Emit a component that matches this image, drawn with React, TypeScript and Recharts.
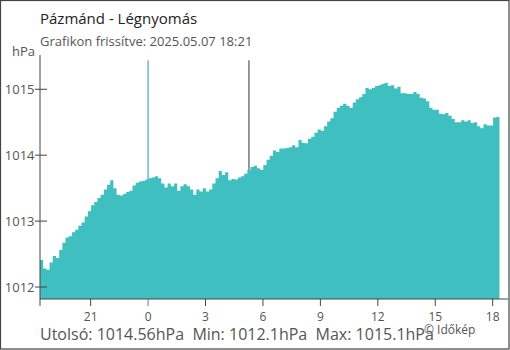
import { AreaChart, Area, XAxis, YAxis, ReferenceLine } from "recharts";

// 10 minute readings, first one at 18:21 the previous day
const START_HOUR = -5.645;
const STEP_HOUR = 1 / 6;

const pressure = [
  1012.41, 1012.28, 1012.26, 1012.37, 1012.47, 1012.44, 1012.56, 1012.67, 1012.75, 1012.77,
  1012.83, 1012.87, 1012.93, 1012.98, 1013.07, 1013.15, 1013.24, 1013.29, 1013.35, 1013.4,
  1013.48, 1013.55, 1013.62, 1013.5, 1013.4, 1013.39, 1013.41, 1013.44, 1013.46, 1013.54,
  1013.58, 1013.6, 1013.61, 1013.63, 1013.65, 1013.66, 1013.68, 1013.65, 1013.57, 1013.51,
  1013.57, 1013.53, 1013.57, 1013.46, 1013.53, 1013.56, 1013.53, 1013.48, 1013.4, 1013.48,
  1013.45, 1013.5, 1013.45, 1013.48, 1013.57, 1013.65, 1013.76, 1013.7, 1013.74, 1013.62,
  1013.64, 1013.63, 1013.66, 1013.68, 1013.72, 1013.78, 1013.82, 1013.84, 1013.8, 1013.78,
  1013.85, 1013.93, 1013.99, 1014.07, 1014.05, 1014.1, 1014.1, 1014.11, 1014.12, 1014.15,
  1014.12, 1014.23, 1014.19, 1014.18, 1014.25, 1014.28, 1014.34, 1014.39, 1014.37, 1014.44,
  1014.51, 1014.56, 1014.66, 1014.72, 1014.75, 1014.78, 1014.75, 1014.72, 1014.8, 1014.85,
  1014.88, 1014.93, 1015.02, 1015.0, 1015.02, 1015.05, 1015.06, 1015.08, 1015.1, 1015.05,
  1015.06, 1015.01, 1015.04, 1014.94, 1014.94, 1014.93, 1014.93, 1014.96, 1014.93, 1014.87,
  1014.86, 1014.82, 1014.72, 1014.69, 1014.69, 1014.63, 1014.62, 1014.64, 1014.6, 1014.55,
  1014.5, 1014.5, 1014.53, 1014.51, 1014.53, 1014.49, 1014.5, 1014.44, 1014.41, 1014.47,
  1014.45, 1014.45, 1014.57, 1014.58, 1014.56,
];

const xTicks = [START_HOUR, -3, 0, 3, 6, 9, 12, 15, 18];
const yTicks = [1012, 1013, 1014, 1015];

const MIDNIGHT = 0;
const SUNRISE = 5.27;

const TITLE = "Pázmánd - Légnyomás";
const SUBTITLE = "Grafikon frissítve: 2025.05.07 18:21";
const SUMMARY = "Utolsó: 1014.56hPa  Min: 1012.1hPa  Max: 1015.1hPa";

const data = pressure.map((p, i) => ({ t: START_HOUR + i * STEP_HOUR, p }));

const valueAt = (h: number) => pressure[Math.floor((h - START_HOUR) / STEP_HOUR)];

const FONT = "'Open Sans', sans-serif";
const AXIS = "#444";
const GREY = "#555";

const YTick = ({ x, y, payload }: any) => (
  <g>
    <line x1={x - 5} x2={x + 7} y1={y} y2={y} stroke={AXIS} />
    <text x={x - 5.5} y={y} dy={4.5} textAnchor="end" fill={GREY} fontSize={13} fontFamily={FONT}>
      {payload.value}
    </text>
  </g>
);

const XTick = ({ x, y, payload }: any) => {
  const v = payload.value;
  const label = v === START_HOUR ? "" : String(v < 0 ? v + 24 : v);
  return (
    <g>
      <line x1={x} x2={x} y1={y} y2={y + 7} stroke={v === 0 ? "#2b8fd8" : AXIS} />
      <text x={x} y={y + 21.5} textAnchor="middle" fill={GREY} fontSize={12} fontFamily={FONT}>
        {label}
      </text>
    </g>
  );
};

export default function App() {
  return (
    <div style={{ position: "absolute", left: 0, top: 0, width: 510, height: 350, background: "#fff" }}>
      <AreaChart width={510} height={350} data={data} margin={{ top: 55, right: 2, left: 0, bottom: 0 }}>
        <XAxis
          dataKey="t"
          type="number"
          domain={[START_HOUR, 18.8]}
          ticks={xTicks}
          allowDataOverflow
          height={51}
          tickSize={0}
          tickMargin={0}
          tickLine={false}
          axisLine={{ stroke: AXIS }}
          tick={XTick}
          interval={0}
        />
        <YAxis
          type="number"
          domain={[1011.818, 1015.52]}
          ticks={yTicks}
          allowDataOverflow
          width={40}
          tickSize={0}
          tickMargin={0}
          tickLine={false}
          axisLine={{ stroke: AXIS }}
          tick={YTick}
          interval={0}
        />
        <ReferenceLine
          segment={[{ x: MIDNIGHT, y: valueAt(MIDNIGHT) }, { x: MIDNIGHT, y: 1015.44 }]}
          stroke="#2b8fd8"
          strokeWidth={1}
        />
        <ReferenceLine
          segment={[{ x: SUNRISE, y: valueAt(SUNRISE) }, { x: SUNRISE, y: 1015.44 }]}
          stroke="#333"
          strokeWidth={1}
        />
        <Area
          type="stepAfter"
          dataKey="p"
          stroke="none"
          fill="#40bfc1"
          fillOpacity={1}
          isAnimationActive={false}
          dot={false}
          activeDot={false}
        />
      </AreaChart>
      <svg width={510} height={350} style={{ position: "absolute", left: 0, top: 0, pointerEvents: "none" }}>
        <rect x={0.5} y={0.5} width={508.5} height={348.5} fill="none" stroke="#444" strokeWidth={1.2} />
        <text x={40} y={24} fontSize={15} fill="#222" fontFamily={FONT}>
          {TITLE}
        </text>
        <text x={40} y={45.5} fontSize={13} fill={GREY} fontFamily={FONT}>
          {SUBTITLE}
        </text>
        <text x={35} y={56} fontSize={13} fill={GREY} fontFamily={FONT} textAnchor="end">
          hPa
        </text>
        <text x={40} y={340} fontSize={16} fill={GREY} fontFamily={FONT} xmlSpace="preserve">
          {SUMMARY}
        </text>
        <text x={424} y={334} fontSize={12} fill={GREY} fontFamily={FONT}>
          © Időkép
        </text>
      </svg>
    </div>
  );
}
